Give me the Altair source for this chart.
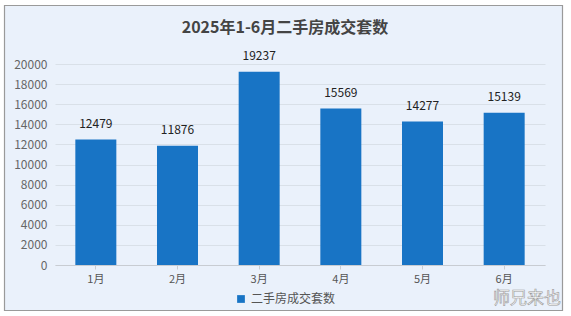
import altair as alt
import pandas as pd

months = ["1月", "2月", "3月", "4月", "5月", "6月"]
values = [12479, 11876, 19237, 15569, 14277, 15139]
y_ticks = [0, 2000, 4000, 6000, 8000, 10000, 12000, 14000, 16000, 18000, 20000]
series_name = "二手房成交套数"
title_text = "2025年1-6月二手房成交套数"
watermark = "师兄来也"

df = pd.DataFrame({"month": months, "value": values, "series": [series_name] * len(months)})

FONT = "Noto Sans CJK SC"
BAR = "#1874c5"

W, H = 490, 201
one = pd.DataFrame({"a": [0]})

outer = alt.Chart(one).mark_rect(fill=None, stroke="#ffffff", strokeWidth=18).encode(
    x=alt.value(-60), x2=alt.value(517), y=alt.value(-68), y2=alt.value(256))
border = alt.Chart(one).mark_rect(fill=None, stroke="#9a9a9a", strokeWidth=1.2).encode(
    x=alt.value(-50.5), x2=alt.value(507.5), y=alt.value(-58.5), y2=alt.value(246.5))

xenc = alt.X("month:N", sort=months, title=None,
             scale=alt.Scale(paddingInner=0.5, paddingOuter=0.25),
             axis=alt.Axis(labelAngle=0, labelFont=FONT, labelFontSize=11, labelColor="#555",
                           domainColor="#c8ccd2", tickColor="#c8ccd2", tickSize=4,
                           labelPadding=4, grid=False))
yenc = alt.Y("value:Q", title=None,
             scale=alt.Scale(domain=[0, 20000], nice=False),
             axis=alt.Axis(values=y_ticks, format="d", labelOverlap=False, labelFont=FONT,
                           labelFontSize=12, labelColor="#666", domain=False, ticks=False,
                           labelPadding=8, gridColor="#d9e0e8", gridWidth=1))

bars = alt.Chart(df).mark_bar(size=41).encode(
    x=xenc, y=yenc,
    color=alt.Color("series:N", scale=alt.Scale(range=[BAR]), title=None,
                    legend=alt.Legend(orient="none", legendX=180, legendY=229,
                                      symbolType="square", symbolSize=60,
                                      labelFont=FONT, labelFontSize=12, labelColor="#555",
                                      symbolStrokeWidth=0))
)

labels = alt.Chart(df).mark_text(baseline="bottom", dy=-9, font=FONT, fontSize=12, color="#222").encode(
    x=xenc, y=yenc, text="value:Q"
)

title = alt.Chart(pd.DataFrame({"t": [title_text]})).mark_text(
    font=FONT, fontSize=16, fontWeight="bold", color="#444", align="center", baseline="middle"
).encode(x=alt.value(230), y=alt.value(-36), text="t:N")

wm = alt.Chart(pd.DataFrame({"t": [watermark]})).mark_text(
    font=FONT, fontSize=17, fill="#ffffff", stroke="#9a9a9a", strokeWidth=0.6, align="center", baseline="middle"
).encode(x=alt.value(472), y=alt.value(235), text="t:N")

chart = alt.layer(bars, labels, title, outer, border, wm).properties(
    width=W, height=H,
    padding={"left": 55, "top": 64, "right": 26, "bottom": 51},
    autosize=alt.AutoSizeParams(type="none"),
    background="#eaf1fb",
).configure_view(stroke=None)

chart.save("out.html", embed_options={"renderer": "svg", "actions": False})
